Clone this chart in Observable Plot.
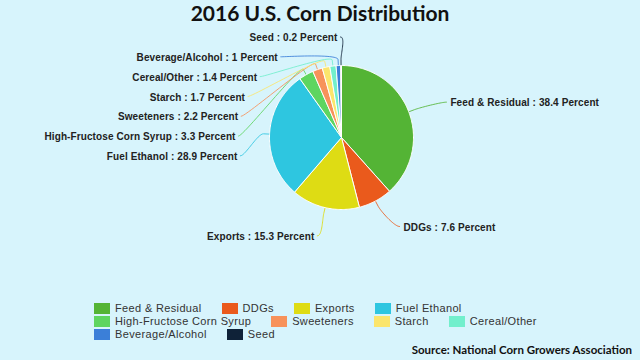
<!DOCTYPE html>
<html><head><meta charset="utf-8">
<script src="https://cdn.jsdelivr.net/npm/d3@7"></script>
<script src="https://cdn.jsdelivr.net/npm/@observablehq/plot@0.6"></script>
<style>
html,body{margin:0;padding:0;background:#d7f4fc;}
#wrap{position:relative;width:640px;height:360px;background:#d7f4fc;overflow:hidden;}
#title{position:absolute;top:-2px;left:0;width:640px;text-align:center;font-family:Lato,sans-serif;font-weight:700;font-size:21px;line-height:30px;color:#111;}
#chart{position:absolute;top:28px;left:0;}
#chart svg{background:transparent;}
#chart svg text{letter-spacing:0.1px;}
#legend{position:absolute;left:94px;top:302px;width:470px;display:flex;flex-wrap:wrap;column-gap:20px;font-family:"Liberation Sans",sans-serif;font-size:11px;letter-spacing:0.35px;color:#333;line-height:13px;}
.item{display:flex;align-items:center;height:13px;}
.sw{width:16px;height:11px;margin-right:5px;}
#source{position:absolute;right:8px;top:341px;font-family:Lato,sans-serif;font-weight:700;font-size:11.5px;line-height:17px;color:#111;}
</style></head>
<body>
<div id="wrap">
  <div id="title"></div>
  <div id="chart"></div>
  <div id="legend"></div>
  <div id="source"></div>
</div>
<script>
const titleText = "2016 U.S. Corn Distribution";
const sourceText = "Source: National Corn Growers Association";
const categories = ["Feed & Residual","DDGs","Exports","Fuel Ethanol","High-Fructose Corn Syrup","Sweeteners","Starch","Cereal/Other","Beverage/Alcohol","Seed"];
const values = [38.4, 7.6, 15.3, 28.9, 3.3, 2.2, 1.7, 1.4, 1, 0.2];
const colors = ["#54b435","#ea5a1c","#dedc14","#2ec6e0","#5ed560","#f7925a","#fbe56c","#72efcc","#3b7fd8","#0f2238"];
const labelSuffix = " Percent";

document.getElementById("title").textContent = titleText;
document.getElementById("source").textContent = sourceText;

const W = 640, H = 262, R = 72, LD = 30;
const total = d3.sum(values);
let acc = 0;
const slices = categories.map((c, i) => {
  const a0 = acc / total * 2 * Math.PI; acc += values[i];
  const a1 = acc / total * 2 * Math.PI;
  return {c, v: values[i], a0, a1, mid: (a0 + a1) / 2};
});
const pt = (r, a) => ({x: r * Math.sin(a), y: r * Math.cos(a)});

// pie polygons
const piePts = slices.flatMap(s => {
  const n = Math.max(2, Math.ceil((s.a1 - s.a0) / (Math.PI / 180)) + 1);
  const arr = [{cat: s.c, x: 0, y: 0}];
  for (let k = 0; k < n; k++) arr.push({cat: s.c, ...pt(R, s.a0 + (s.a1 - s.a0) * k / (n - 1))});
  arr.push({cat: s.c, x: 0, y: 0});
  return arr;
});

// label layout
const labels = slices.map(s => ({...s, left: Math.sin(s.mid) < 0, y: (R + LD) * Math.cos(s.mid)}));
const lefts = labels.filter(l => l.left).sort((a, b) => b.y - a.y);
let prev = null;
lefts.forEach((l, k) => { l.y = Math.min(l.y, k === 0 ? 99.5 : prev - 19.8); prev = l.y; });
labels.filter(l => !l.left).forEach(l => { if (l.y > 0) l.y -= 2; });
const xOn = y => Math.sqrt(Math.max(0, (R + LD) ** 2 - (y + (y > 0 ? 3 : 0)) ** 2));
labels.forEach(l => {
  if (l.left) { l.tx = -(xOn(l.y) + 4); l.sx = l.tx + 3; }
  else { l.tx = xOn(l.y) + 14; l.sx = l.tx - 4; }
  l.sy = l.y + 1;
  l.text = `${l.c} : ${l.v}${labelSuffix}`;
});

// connectors (cubic bezier like soft connectors)
const connPts = labels.flatMap(l => {
  const p0 = {x: l.sx, y: l.sy};
  const p1 = {x: l.sx + (l.left ? 5 : -5), y: l.sy};
  const p2 = pt(R + 12, l.mid), p3 = pt(R + 6, l.mid), p4 = pt(R, l.mid);
  const out = [];
  for (let k = 0; k <= 24; k++) {
    const t = k / 24, u = 1 - t;
    out.push({cat: l.c,
      x: u*u*u*p0.x + 3*u*u*t*p1.x + 3*u*t*t*p2.x + t*t*t*p3.x,
      y: u*u*u*p0.y + 3*u*u*t*p1.y + 3*u*t*t*p2.y + t*t*t*p3.y});
  }
  out.push({cat: l.c, ...p4});
  return out;
});

const textOpts = {x: "tx", y: "y", text: "text", fontWeight: "bold", fontSize: 10, fontFamily: "Liberation Sans, Arial, sans-serif", fill: "#222"};
const chart = Plot.plot({
  width: W, height: H, margin: 0,
  x: {domain: [-341, 299], axis: null},
  y: {domain: [-153, 109], axis: null},
  color: {domain: categories, range: colors},
  style: {background: "transparent", overflow: "visible"},
  marks: [
    Plot.line(connPts, {x: "x", y: "y", z: "cat", stroke: "cat", strokeWidth: 1, strokeOpacity: 0.85}),
    Plot.line(piePts, {x: "x", y: "y", z: "cat", fill: "cat", stroke: "white", strokeWidth: 1, strokeLinejoin: "round"}),
    Plot.text(labels.filter(l => l.left), {...textOpts, textAnchor: "end"}),
    Plot.text(labels.filter(l => !l.left), {...textOpts, textAnchor: "start"})
  ]
});
document.getElementById("chart").appendChild(chart);

const legend = document.getElementById("legend");
categories.forEach((c, i) => {
  const it = document.createElement("div"); it.className = "item";
  const sw = document.createElement("div"); sw.className = "sw"; sw.style.background = colors[i];
  const tx = document.createElement("span"); tx.textContent = c;
  it.appendChild(sw); it.appendChild(tx); legend.appendChild(it);
});
</script>
</body></html>
